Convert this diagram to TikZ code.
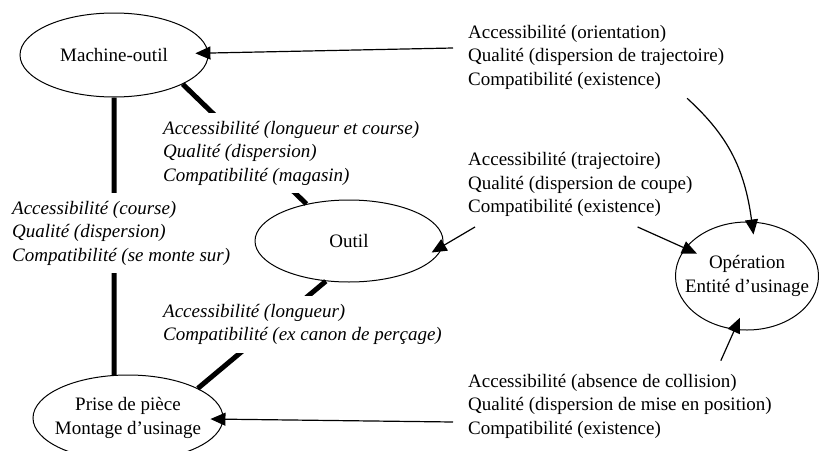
\documentclass[tikz,border=0pt]{standalone}
\usepackage{fontspec}
\setmainfont{Liberation Serif}
\usetikzlibrary{arrows.meta,shapes.geometric,positioning}
\newcommand{\ov}{-13pt}

\begin{document}
\begin{tikzpicture}[x=1pt,y=-1pt,font=\fontsize{19}{23.5}\selectfont,
  ent/.style={ellipse,draw,line width=1pt,inner sep=0pt,align=center},
  crit/.style={align=left,inner sep=0pt,anchor=west},
  lien/.style={align=left,anchor=west,inner xsep=4pt,inner ysep=8pt,fill=white,
    font=\fontsize{19}{23.5}\selectfont\itshape},
  fleche/.style={line width=1.2pt,-{Triangle[length=15pt,width=13pt]},shorten >=\ov},
  barre/.style={line width=5pt}]
\useasboundingbox (0,0) rectangle (819,450);
\node[ent,minimum width=188pt,minimum height=84pt] (machine) at (114,55) {Machine-outil};
\node[ent,minimum width=188pt,minimum height=82pt] (outil) at (349,241) {Outil};
\node[ent,minimum width=143pt,minimum height=108pt,inner xsep=-12pt] (operation) at (747,276)
  {Opération\\Entité d’usinage};
\node[ent,minimum width=190pt,minimum height=86pt,inner xsep=-7pt] (prise) at (128,418)
  {Prise de pièce\\Montage d’usinage};
%
\node[crit] (rtop) at (468,57) {Accessibilité (orientation)\\Qualité (dispersion de trajectoire)\\Compatibilité (existence)};
\node[crit,below=63pt of rtop.south west,anchor=north west] (rmid) {Accessibilité (trajectoire)\\Qualité (dispersion de coupe)\\Compatibilité (existence)};
\node[crit] (rbot) at (468,406) {Accessibilité (absence de collision)\\Qualité (dispersion de mise en position)\\Compatibilité (existence)};
%
\path[fleche]
  ([xshift=-15pt,yshift=9pt]rtop.west)        edge (machine)
  ([xshift=91pt,yshift=-9pt]rtop.south)       edge[bend left=20] (operation.85)
  ([xshift=7pt,yshift=-10pt]rmid.south west)  edge (outil.-3)
  ([xshift=-55pt,yshift=-10pt]rmid.south east) edge (operation)
  ([xshift=-51pt,yshift=13pt]rbot.north east) edge (operation.-103)
  ([xshift=-15pt,yshift=-16pt]rbot.west)      edge (prise)
; %-path-%
\path[barre]
  (machine.south) edge (prise.108)
  (machine.-23)   edge (outil.139)
  (outil.240)     edge (prise.23)
; %-path-%
%
\node[lien] (lab1) at (159,153) {Accessibilité (longueur et course)\\Qualité (dispersion)\\Compatibilité (magasin)};
\node[lien] (lab2) at (8,233) {Accessibilité (course)\\Qualité (dispersion)\\Compatibilité (se monte sur)};
\node[lien] (lab3) at (159,324.5) {Accessibilité (longueur)\\Compatibilité (ex canon de perçage)};
\end{tikzpicture}
\end{document}
